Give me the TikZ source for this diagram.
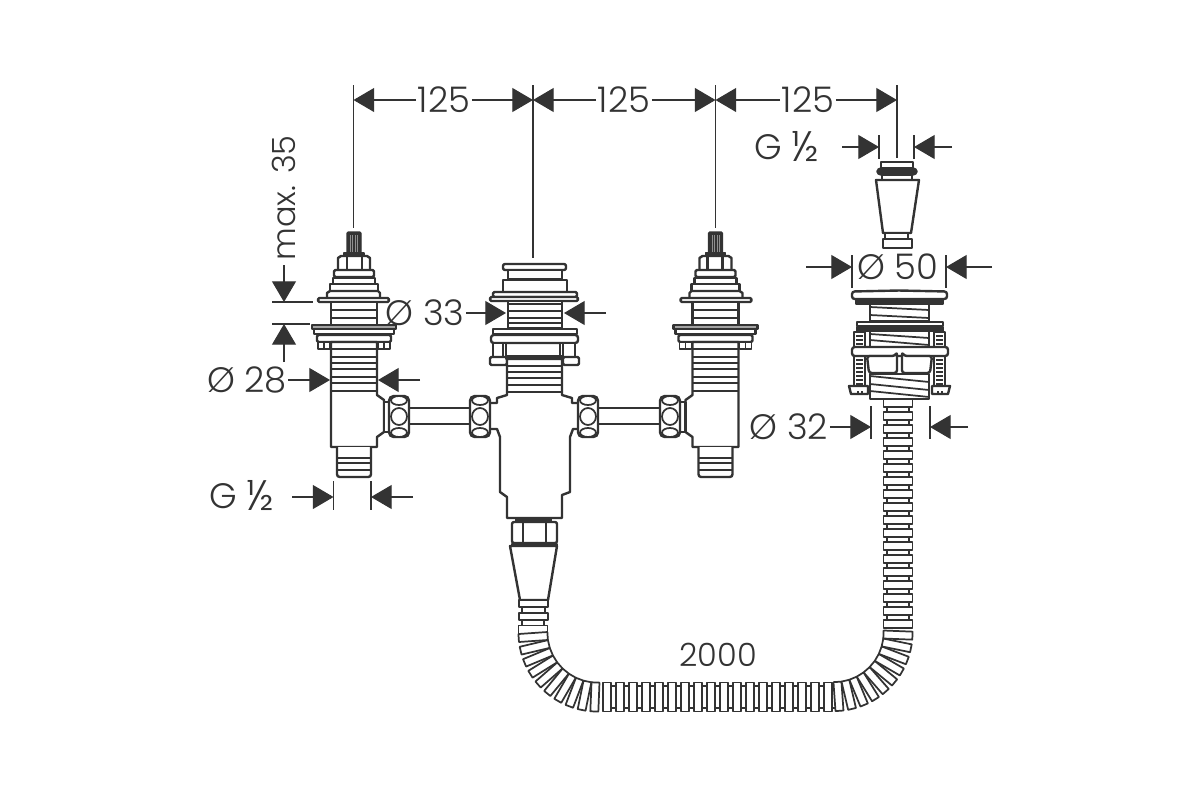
\documentclass[tikz,border=0pt]{standalone}
\usepackage{fontspec}
\setmainfont{Poppins}[UprightFont=* Light]
\usepackage{tikz}
\usetikzlibrary{arrows.meta}
\definecolor{ink}{HTML}{333333}
\newcommand{\half}{{\fontsize{32}{32}\selectfont\raisebox{-1.5pt}{½}}}

\begin{document}
\begin{tikzpicture}[
    x=0.75pt,y=-0.75pt,
    >={Triangle[length=15.5pt,width=18pt]},
    line join=round,
    every node/.style={text=ink,inner sep=1pt,font=\fontsize{26.5}{28}\selectfont},
    small label/.style={font=\fontsize{24}{26}\selectfont},
    part/.style={draw=ink,line width=1.8pt,fill=white},
    thin part/.style={draw=ink,line width=1.3pt},
    solid part/.style={draw=ink,line width=1.1pt,fill=ink},
    dim/.style={draw=ink,line width=0.8pt},
    witness/.style={draw=ink,line width=0.8pt},
    rib/.pic={
        \draw[thin part] (4,-11) -- (8.7,-11) (4,11) -- (8.7,11);
        \draw[thin part,fill=white] (-4,-14.5) rectangle (4,14.5);
    },
    bend rib/.pic={
        \draw[thin part,fill=white] (-4,-14.5) rectangle (4,14.5);
    },
    union/.pic={
        \draw[part,rounded corners=3.5pt] (-10,-20.5) rectangle (10,20.5);
        \draw[thin part,fill=white] (0,-16) ellipse (8 and 4.5);
        \draw[thin part,fill=white] (0,16) ellipse (8 and 4.5);
        \draw[thin part,fill=white] (0,0) ellipse (8 and 8.5);
    },
    valve/.pic={
        % spindle
        \draw[solid part,rounded corners=1pt] (-7,232) rectangle (7,253);
        \foreach \s in {-4,-1.5,1,3.5}
            \draw[white!45!ink,line width=0.4pt] (\s,235) -- (\s,252);
        \draw[solid part] (-10,253) rectangle (10,256);
        % nut and collars
        \draw[part] (-16,269) -- (-16,258) -- (-13,256) -- (13,256) -- (16,258) -- (16,269);
        \draw[part] (-7,256) -- (-7,269) (8,256) -- (8,269);
        \draw[part,rounded corners=1pt] (-20,270) rectangle (20,277);
        \draw[part] (-21,278) rectangle (21,284);
        \draw[part] (-24,284) rectangle (24,291);
        \draw[part] (-27,298) -- (-27,293) -- (-24,291) -- (24,291) -- (26,293) -- (26,298);
        \draw[part,rounded corners=1pt] (-36,298) rectangle (35,302);
        % upper thread
        \draw[part] (-23,302) rectangle (23,325);
        \foreach \y in {310,318}
            \draw[thin part] (-23,\y) -- (23,\y);
        % plate and washer
        \draw[part,fill=ink!45] (-42,325) rectangle (42,329);
        \draw[part] (-40,329) rectangle (40,334);
        \draw[part,rounded corners=1pt] (-37,335) rectangle (37,342);
        \draw[thin part,fill=white] (-36,342) rectangle (-24,349);
        \draw[thin part,fill=white] (24,342) rectangle (36,349);
        \draw[thin part] (-30,342) -- (-30,349) (30,342) -- (30,349);
        % lower body
        \draw[part] (-23,342) -- (23,342) -- (23,392) -- (23,395) -- (30,400) -- (30,432)
            -- (23,437) -- (23,447) -- (-23,447) -- cycle;
        \foreach \y in {349,357,363,369,377,383,391}
            \draw[thin part] (-23,\y) -- (23,\y);
        \draw[part] (30,402) rectangle (36,432);
        % tail
        \draw[part,rounded corners=2pt] (-17,447) -- (-17,477) -- (17,477) -- (17,447);
        \foreach \y in {458,463,470}
            \draw[thin part] (-17,\y) -- (17,\y);
    },
    ]

    % flexible hose
    \pic[rotate=90] at (533,629.5) {rib};
    \foreach \a in {0,...,9}
        \pic[rotate=184+\a*9.3+90] at ({597.5+64.5*cos(184+\a*9.3)},{632.5-64.5*sin(184+\a*9.3)}) {bend rib};
    \foreach \a in {0,...,17}
        \pic at (607+\a*13,697) {rib};
    \foreach \a in {0,...,9}
        \pic[rotate=274+\a*9.3+90] at ({834+64*cos(274+\a*9.3)},{632.5-64*sin(274+\a*9.3)}) {bend rib};
    \foreach \a in {0,...,17}
        \pic[rotate=90] at (898,403+\a*13) {rib};

    % connecting pipes
    \draw[part] (405,408) -- (475,408) (405,424) -- (475,424);
    \draw[part] (594,408) -- (664,408) (594,424) -- (664,424);

    % valves
    \pic at (354,0) {valve};
    \pic[xscale=-1] at (715.5,0) {valve};

    % centre mixer
    \draw[part,rounded corners=1.5pt] (503,264) rectangle (566,270);
    \draw[part] (508,270) rectangle (562,279);
    \draw[part] (503,280) rectangle (567,292);
    \draw[part,rounded corners=1pt] (493,292) rectangle (577,297);
    \draw[part,rounded corners=1pt] (490,297) rectangle (578,301);
    \draw[part] (508,301) rectangle (562,328);
    \foreach \y in {304,311,318,323}
        \draw[thin part] (508,\y) -- (562,\y);
    \draw[part] (493,329) rectangle (577,334);
    \draw[part,rounded corners=2pt] (491,335) rectangle (578,343);
    \draw[part] (493,343) rectangle (503,357);
    \draw[part] (563,343) rectangle (575,357);
    \draw[part] (503,343) rectangle (506,357);
    \draw[part] (560,343) rectangle (563,357);
    \draw[part,rounded corners=1pt] (490,357) rectangle (507,365);
    \draw[part,rounded corners=1pt] (563,357) rectangle (579,365);
    \draw[solid part] (506,356) rectangle (563,359);
    \draw[part] (507,359) -- (507,395) -- (497,398) -- (497,403) -- (489,403) -- (489,429)
        -- (497,429) -- (500,437) -- (500,492) -- (507,497) -- (507,518) -- (562,518)
        -- (562,495) -- (570,492) -- (570,437) -- (573,429) -- (580,429) -- (580,403)
        -- (572,403) -- (572,398) -- (562,395) -- (562,359) -- cycle;
    \foreach \y in {366,372,378,385,392}
        \draw[thin part] (507,\y) -- (562,\y);

    % unions
    \foreach \x in {399,480,588,670}
        \pic at (\x,416.5) {union};

    % mixer outlet
    \draw[part] (515,520) -- (552,520);
    \draw[part,rounded corners=1.5pt] (512,522) rectangle (557,543);
    \draw[part] (523,522) -- (523,543) (546,522) -- (546,543);
    \draw[solid part] (512,544) rectangle (557,545);
    \draw[part] (510,546) -- (557,546) -- (548,600) -- (520,600) -- cycle;
    \draw[part] (519,600) rectangle (548,607);
    \draw[part] (522,607) rectangle (545,613);
    \draw[part] (519,613) rectangle (548,620);

    % hose connector
    \draw[part] (881,162) rectangle (913,168);
    \draw[part] (882,175) rectangle (912,180);
    \draw[solid part,rounded corners=3pt] (877,168) rectangle (917,175);
    \draw[part] (876,180) -- (919,180) -- (911,233) -- (883,233) -- cycle;
    \draw[part] (885,233) rectangle (908,239);
    \draw[part] (883,239) rectangle (912,248);

    % overflow fitting
    \draw[part] (870,304) rectangle (929,321);
    \draw[thin part] (870,307) -- (929,310) (870,315) -- (929,318);
    \draw[part,rounded corners=2pt] (852,299) -- (852,291.5) -- (899,290.5) -- (947,291.5)
        -- (947,299) -- cycle;
    \draw[solid part] (856,299) rectangle (943,304);
    \draw[part] (857,322) rectangle (943,326);
    \draw[solid part] (857,327) rectangle (943,331);
    \foreach \x in {854,934}{
        \draw[part] (\x,332) rectangle (\x+11,347);
        \draw[part] (\x,356) rectangle (\x+11,387);
        \foreach \y in {336,340,344,360,364,368,372,376,380,384}
            \draw[thin part] (\x+2,\y) -- (\x+9,\y);
    }
    \draw[part] (865,331) rectangle (870,347);
    \draw[part] (929,331) rectangle (934,347);
    \draw[part] (870,331) rectangle (929,347);
    \draw[thin part] (870,334) -- (929,338) (870,340) -- (929,345);
    \draw[part,rounded corners=2pt] (852,347) rectangle (948,356);
    \draw[part,rounded corners=2pt] (867,356) -- (869,373) -- (897,373) -- (897,352) -- (895,356) -- cycle;
    \draw[part,rounded corners=2pt] (932,356) -- (930,373) -- (902,373) -- (902,352) -- (904,356) -- cycle;
    \draw[part] (870,374) rectangle (929,399);
    \draw[thin part] (870,376) -- (929,382) (870,384) -- (929,390) (870,391) -- (929,397);
    \draw[part] (849,386) -- (868,386) -- (868,394) -- (851,394) -- cycle;
    \draw[part] (932,386) -- (950,386) -- (948,394) -- (932,394) -- cycle;
    \draw[thin part] (858,391) -- (858,394) (862,391) -- (862,394);
    \draw[thin part] (938,391) -- (938,394) (942,391) -- (942,394);

    % dimensions across the top
    \coordinate (pitch a) at (353.5,100);
    \coordinate (pitch b) at (533,100);
    \coordinate (pitch c) at (715.5,100);
    \coordinate (pitch d) at (897,100);
    \node (first)  at (444,100) {125};
    \node (second) at (624,100) {125};
    \node (third)  at (808,100) {125};
    \draw[witness] (353.5,85) -- (353.5,228);
    \draw[witness] (533,85) -- (533,258);
    \draw[witness] (715.5,85) -- (715.5,228);
    \draw[witness] (897,85) -- (897,158);
    \draw[dim,->] (first) -- (pitch a);
    \draw[dim,->] (first) -- (pitch b);
    \draw[dim,->] (second) -- (pitch b);
    \draw[dim,->] (second) -- (pitch c);
    \draw[dim,->] (third) -- (pitch c);
    \draw[dim,->] (third) -- (pitch d);

    % spindle height
    \node[rotate=90,small label] (height) at (284,198) {max. 35};
    \coordinate (height start) at (284,265);
    \coordinate (height top) at (284,302);
    \coordinate (height low) at (284,324);
    \coordinate (height end) at (284,362);
    \draw[witness] (272,302) -- (313,302);
    \draw[witness] (272,324) -- (310,324);
    \draw[dim,->] (height start) -- (height top);
    \draw[dim,->] (height end) -- (height low);

    % diameters
    \node (bore) at (247,380) {Ø 28};
    \coordinate (bore a) at (330,380);
    \coordinate (bore b) at (378,380);
    \coordinate (bore c) at (420,380);
    \draw[dim,->] (bore) -- (bore a);
    \draw[dim,->] (bore c) -- (bore b);

    \node (neck) at (425,313) {Ø 33};
    \coordinate (neck a) at (506,313);
    \coordinate (neck b) at (564,313);
    \coordinate (neck c) at (606,313);
    \draw[dim,->] (neck) -- (neck a);
    \draw[dim,->] (neck c) -- (neck b);

    \node (hose) at (789,427) {Ø 32};
    \coordinate (hose a) at (871,427);
    \coordinate (hose b) at (930,427);
    \coordinate (hose c) at (968,427);
    \draw[witness] (871,406) -- (871,439);
    \draw[witness] (930,406) -- (930,439);
    \draw[dim,->] (hose) -- (hose a);
    \draw[dim,->] (hose c) -- (hose b);

    \node (plate) at (898,267) {Ø 50};
    \coordinate (plate a) at (852,267);
    \coordinate (plate b) at (946,267);
    \coordinate (plate c) at (806,267);
    \coordinate (plate d) at (992,267);
    \draw[witness] (852,255) -- (852,288);
    \draw[witness] (946,255) -- (946,288);
    \draw[dim,->] (plate c) -- (plate a);
    \draw[dim,->] (plate d) -- (plate b);

    % threads
    \node (thread left) at (242,495) {G \half};
    \coordinate (thread a) at (292,497);
    \coordinate (thread b) at (333.5,497);
    \coordinate (thread c) at (371,497);
    \coordinate (thread d) at (413,497);
    \draw[witness] (333.5,481) -- (333.5,510);
    \draw[witness] (371,481) -- (371,510);
    \draw[dim,->] (thread a) -- (thread b);
    \draw[dim,->] (thread d) -- (thread c);

    \node (thread right) at (787,146) {G \half};
    \coordinate (thread e) at (842,147);
    \coordinate (thread f) at (879,147);
    \coordinate (thread g) at (914,147);
    \coordinate (thread h) at (952,147);
    \draw[witness] (879,135) -- (879,159);
    \draw[witness] (914,135) -- (914,159);
    \draw[dim,->] (thread e) -- (thread f);
    \draw[dim,->] (thread h) -- (thread g);

    % hose length
    \node[small label] (length) at (718,655) {2000};

    \useasboundingbox (0,0) rectangle (1200,800);
\end{tikzpicture}
\end{document}
